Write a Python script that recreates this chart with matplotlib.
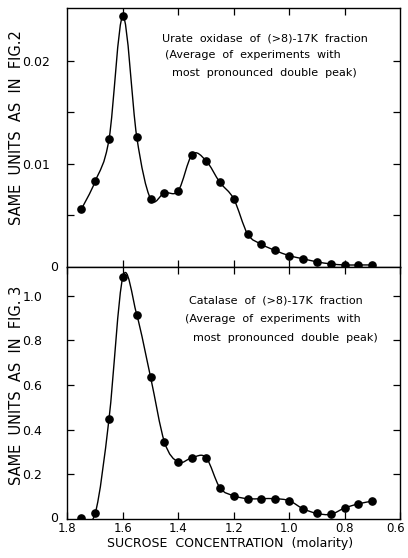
import numpy as np
import matplotlib
matplotlib.use('Agg')
import matplotlib.pyplot as plt
import matplotlib.transforms as mtransforms
from matplotlib.path import Path
from matplotlib.patches import PathPatch

# =============================================================================
# Data
# =============================================================================
sucrose = [1.75, 1.70, 1.65, 1.60, 1.55, 1.50, 1.45, 1.40, 1.35, 1.30, 1.25,
           1.20, 1.15, 1.10, 1.05, 1.00, 0.95, 0.90, 0.85, 0.80, 0.75, 0.70]

urate_oxidase = [0.0056, 0.0083, 0.0124, 0.0243, 0.0126, 0.0066, 0.0072, 0.0074,
                 0.0109, 0.0103, 0.0082, 0.0066, 0.0032, 0.0022, 0.0016, 0.0011,
                 0.0008, 0.0005, 0.0003, 0.0002, 0.0002, 0.0002]

catalase = [0.003, 0.025, 0.45, 1.085, 0.915, 0.635, 0.345, 0.255, 0.275, 0.275,
            0.14, 0.104, 0.091, 0.091, 0.091, 0.082, 0.046, 0.025, 0.021, 0.049,
            0.068, 0.080]

x_ticks = [1.8, 1.6, 1.4, 1.2, 1.0, 0.8, 0.6]
x_ticklabels = ['1.8', '1.6', '1.4', '1.2', '1.0', '0.8', '0.6']
top_yticks = [0.01, 0.02]
top_yticklabels = ['0.01', '0.02']
bot_yticks = [0.2, 0.4, 0.6, 0.8, 1.0]
bot_yticklabels = ['0.2', '0.4', '0.6', '0.8', '1.0']

urate_note = ['Urate  oxidase  of  (>8)-17K  fraction',
              '(Average  of  experiments  with',
              'most  pronounced  double  peak)']
catalase_note = ['Catalase  of  (>8)-17K  fraction',
                 '(Average  of  experiments  with',
                 'most  pronounced  double  peak)']

plt.rcParams['font.family'] = 'DejaVu Sans'


def smooth_path(xs, ys):
    """Catmull-Rom through the points, drawn as cubic Bezier segments."""
    x = np.asarray(xs, float)
    y = np.asarray(ys, float)
    n = len(x)
    verts = [(x[0], y[0])]
    codes = [Path.MOVETO]
    for i in range(n - 1):
        i0 = max(i - 1, 0)
        i3 = min(i + 2, n - 1)
        c1 = (x[i] + (x[i + 1] - x[i0]) / 6.0, y[i] + (y[i + 1] - y[i0]) / 6.0)
        c2 = (x[i + 1] - (x[i3] - x[i]) / 6.0, y[i + 1] - (y[i3] - y[i]) / 6.0)
        verts += [c1, c2, (x[i + 1], y[i + 1])]
        codes += [Path.CURVE4] * 3
    return Path(verts, codes)


def style_axis(ax, ypad):
    for sp in ax.spines.values():
        sp.set_linewidth(1.0)
    ax.tick_params(which='both', direction='in', top=True, right=True,
                   length=5, width=0.9)
    ax.tick_params(axis='y', labelsize=9, pad=ypad)
    ax.tick_params(axis='x', labelsize=8.5, pad=2.5)


fig = plt.figure(figsize=(4.08, 5.58), dpi=100)
ax1 = fig.add_axes([0.1654, 0.5215, 0.8150, 0.4642])
ax2 = fig.add_axes([0.1654, 0.0699, 0.8150, 0.4516])

# --- Top panel: urate oxidase ---
ax1.add_patch(PathPatch(smooth_path(sucrose, urate_oxidase), fill=False,
                        edgecolor='black', linewidth=1.0))
ax1.plot(sucrose, urate_oxidase, 'o', color='black', markersize=5.2)
ax1.set_xlim(1.8, 0.6)
ax1.set_ylim(0, 0.0251)
ax1.set_xticks([1.6, 1.4, 1.2, 1.0, 0.8])
ax1.set_xticklabels([])
ax1.set_yticks(top_yticks)
ax1.set_yticklabels(top_yticklabels)
ax1.set_yticks([0.005, 0.015], minor=True)
style_axis(ax1, 12.5)
ax1.text(-0.028, 0.0, '0', transform=ax1.get_yaxis_transform(),
         ha='right', va='center', fontsize=9)
ax1.set_ylabel('SAME  UNITS  AS  IN  FIG.2', fontsize=10.5)
ax1.yaxis.set_label_coords(-0.13, 0.54)
for (xa, ya), line in zip([(0.284, 0.884), (0.293, 0.819), (0.314, 0.749)], urate_note):
    ax1.text(xa, ya, line, transform=ax1.transAxes, ha='left', va='center',
             fontsize=8)

# --- Bottom panel: catalase ---
ax2.add_patch(PathPatch(smooth_path(sucrose, catalase), fill=False,
                        edgecolor='black', linewidth=1.0))
ax2.plot(sucrose, catalase, 'o', color='black', markersize=5.2)
ax2.set_xlim(1.8, 0.6)
ax2.set_ylim(0, 1.129)
ax2.set_xticks(x_ticks)
ax2.set_xticklabels(x_ticklabels)
ax2.set_yticks(bot_yticks)
ax2.set_yticklabels(bot_yticklabels)
style_axis(ax2, 18)
ax2.text(-0.028, 0.0, '0', transform=ax2.get_yaxis_transform(),
         ha='right', va='center', fontsize=9)
ax2.set_ylabel('SAME  UNITS  AS  IN  FIG. 3', fontsize=10.5)
ax2.yaxis.set_label_coords(-0.13, 0.53)
ax2.set_xlabel('SUCROSE  CONCENTRATION  (molarity)', fontsize=9)
ax2.xaxis.set_label_coords(0.489, -0.071)
for (xa, ya), line in zip([(0.365, 0.866), (0.353, 0.794), (0.377, 0.719)], catalase_note):
    ax2.text(xa, ya, line, transform=ax2.transAxes, ha='left', va='center',
             fontsize=8)

# nudge the last x label so it stays inside the figure
last = ax2.get_xticklabels()[-1]
last.set_transform(last.get_transform() +
                   mtransforms.ScaledTranslation(-0.04, 0, fig.dpi_scale_trans))

plt.savefig('out.png', dpi=100)
plt.close()
